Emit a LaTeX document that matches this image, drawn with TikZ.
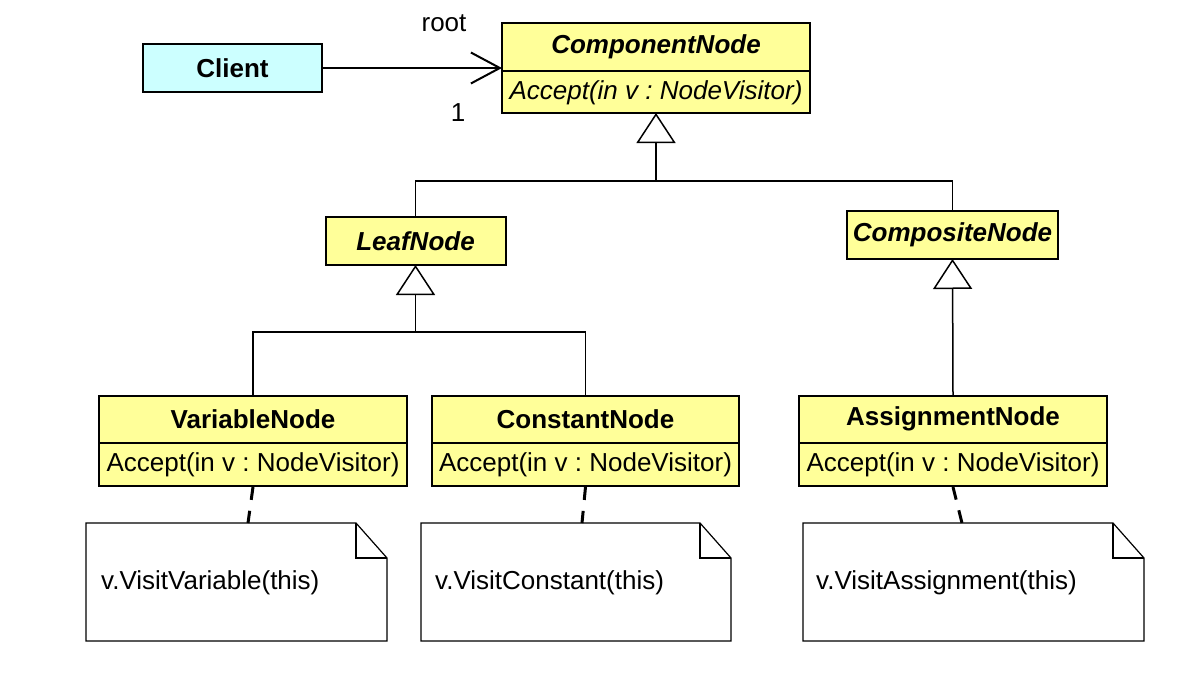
\documentclass[tikz,border=0pt]{standalone}
\usepackage{fontspec}
\setmainfont{Liberation Sans}
\usetikzlibrary{arrows.meta,calc}
\definecolor{clsyellow}{HTML}{FFFF99}
\definecolor{clicyan}{HTML}{CCFFFF}
\frenchspacing
\begin{document}
\frenchspacing
\begin{tikzpicture}[x=1pt,y=-1pt,
  box/.style={draw=black, line width=2pt, inner sep=0pt, outer sep=0pt},
  cls/.style={box, fill=clsyellow},
  txt/.style={inner sep=0pt, font=\fontsize{26}{30}\selectfont\frenchspacing},
  hdr/.style={txt, font=\fontsize{26}{30}\selectfont\bfseries},
  ahdr/.style={txt, font=\fontsize{26}{30}\selectfont\bfseries\itshape},
  conn/.style={draw=black, line width=1.5pt},
  inh/.style={conn, -{Triangle[open, fill=white, length=30pt, width=39pt, line width=1.5pt]}},
  assoc/.style={conn, -{Straight Barb[length=29pt, width=31pt, line width=2pt]}},
  notebox/.style={draw=none, inner sep=0pt, outer sep=0pt, minimum height=118pt},
  noteline/.style={draw=black, line width=1.2pt, fill=white},
  anchorline/.style={draw=black, line width=3pt, dash pattern=on 13pt off 11pt}
]
\useasboundingbox (0,0) rectangle (1182,674);

% Client
\node[box, fill=clicyan, minimum width=179pt, minimum height=48pt] (client) at (232.5,68) {};
\node[hdr] (clientT) at (232.5,68) {Client};

% ComponentNode
\node[cls, minimum width=308pt, minimum height=90pt] (comp) at (656,68) {};
\draw[box] ([yshift=-48pt]comp.north west) -- ([yshift=-48pt]comp.north east);
\node[ahdr] (compT) at (656,47) {ComponentNode};
\node[txt, font=\fontsize{26}{30}\selectfont\itshape\frenchspacing] (compM) at (656,93) {Accept(in v : NodeVisitor)};

% association
\draw[assoc] (client.east) -- (comp.west |- client.east);
\node[txt] (rootL) at (444,23) {root};
\node[txt] (oneL) at (458,113) {1};

% LeafNode and CompositeNode
\node[cls, minimum width=180pt, minimum height=48pt] (leaf) at (415.5,241) {};
\node[ahdr] (leafT) at (415.5,241) {LeafNode};
\node[cls, minimum width=211pt, minimum height=48pt] (compo) at (952.5,235) {};
\node[ahdr] (compoT) at (952.5,235) {CompositeNode};

\coordinate (hub) at (656,181);
\draw[inh] (leaf.north) |- (hub) -- (comp.south);
\draw[conn] (compo.north) |- (hub);

% concrete classes
\node[cls, minimum width=308pt, minimum height=90pt] (var) at (253,441) {};
\draw[box] ([yshift=-47pt]var.north west) -- ([yshift=-47pt]var.north east);
\node[hdr] (varT) at (253,419) {VariableNode};
\node[txt] (varM) at (253,465) {Accept(in v : NodeVisitor)};

\node[cls, minimum width=307pt, minimum height=90pt] (const) at (585.5,441) {};
\draw[box] ([yshift=-47pt]const.north west) -- ([yshift=-47pt]const.north east);
\node[hdr] (constT) at (585.5,419) {ConstantNode};
\node[txt] (constM) at (585.5,465) {Accept(in v : NodeVisitor)};

\node[cls, minimum width=308pt, minimum height=90pt] (assign) at (953,441) {};
\draw[box] ([yshift=-47pt]assign.north west) -- ([yshift=-47pt]assign.north east);
\node[hdr] (assignT) at (953,419) {AssignmentNode};
\node[txt] (assignM) at (953,465) {Accept(in v : NodeVisitor)};

\coordinate (leafhub) at (415.5,332);
\draw[inh] (var.north) |- (leafhub) -- (leaf.south);
\draw[conn] (const.north) |- (leafhub);
\draw[inh] (assign.north) -- (compo.south);

% notes
\node[notebox, minimum width=301pt] (vnote) at (236.5,582) {};
\node[notebox, minimum width=310pt] (cnote) at (576,582) {};
\node[notebox, minimum width=341pt] (anote) at (973.5,582) {};
\foreach \n in {vnote,cnote,anote}{
  \draw[noteline] (\n.north west) -- ([xshift=-31pt]\n.north east) -- ([yshift=-35pt]\n.north east)
    -- (\n.south east) -- (\n.south west) -- cycle;
  \draw[noteline, fill=none] ([xshift=-31pt]\n.north east) |- ([yshift=-35pt]\n.north east);
}
\node[txt, anchor=west] (vnoteT) at (101,583) {v.VisitVariable(this)};
\node[txt, anchor=west] (cnoteT) at (435,583) {v.VisitConstant(this)};
\node[txt, anchor=west] (anoteT) at (816,583) {v.VisitAssignment(this)};

\draw[anchorline] ([yshift=-1pt]var.south) -- ([xshift=162pt]vnote.north west);
\draw[anchorline] ([yshift=-1pt]const.south) -- ([xshift=161pt]cnote.north west);
\draw[anchorline] ([yshift=-1pt]assign.south) -- ([xshift=159pt]anote.north west);
\end{tikzpicture}
\end{document}
